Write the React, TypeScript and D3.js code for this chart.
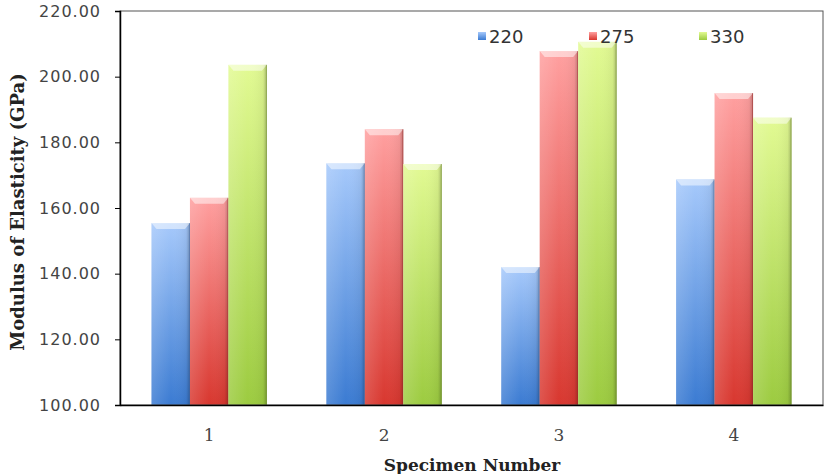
import React, { useEffect, useRef } from "react";
import * as d3 from "d3";

const categories = ["1", "2", "3", "4"];
const seriesNames = ["220", "275", "330"];
const values220 = [155.4, 173.6, 142.0, 168.7];
const values275 = [163.1, 184.0, 207.8, 195.0];
const values330 = [203.6, 173.4, 210.6, 187.5];
const yTicks = [100, 120, 140, 160, 180, 200, 220];

const colors = [
  { top: "#a6c9fb", bottom: "#3b7bd2", edge: "#2f5f9f" },
  { top: "#ffa0a0", bottom: "#d8372f", edge: "#9f2c29" },
  { top: "#e2fa93", bottom: "#9ccb40", edge: "#6f8f30" },
];

const App = () => {
  const svgRef = useRef<SVGSVGElement | null>(null);

  useEffect(() => {
    const width = 828;
    const height = 474;
    const margin = { top: 11, right: 5, bottom: 69, left: 120 };
    const innerW = width - margin.left - margin.right;
    const innerH = height - margin.top - margin.bottom;

    const svg = d3.select(svgRef.current).attr("width", width).attr("height", height);
    svg.selectAll("*").remove();

    const defs = svg.append("defs");
    colors.forEach((c, i) => {
      const g = defs
        .append("linearGradient")
        .attr("id", `grad${i}`)
        .attr("x1", 0)
        .attr("y1", 0)
        .attr("x2", 0)
        .attr("y2", 1);
      g.append("stop").attr("offset", "0%").attr("stop-color", c.top);
      g.append("stop").attr("offset", "100%").attr("stop-color", c.bottom);
      const h = defs
        .append("linearGradient")
        .attr("id", `side${i}`)
        .attr("x1", 0)
        .attr("y1", 0)
        .attr("x2", 1)
        .attr("y2", 0);
      h.append("stop").attr("offset", "0%").attr("stop-color", "#fff").attr("stop-opacity", 0.15);
      h.append("stop").attr("offset", "50%").attr("stop-color", "#fff").attr("stop-opacity", 0);
      h.append("stop").attr("offset", "90%").attr("stop-color", "#000").attr("stop-opacity", 0.05);
      h.append("stop").attr("offset", "100%").attr("stop-color", "#000").attr("stop-opacity", 0.25);
    });

    const root = svg.append("g").attr("transform", `translate(${margin.left},${margin.top})`);

    const x0 = d3.scaleBand().domain(categories).range([0, innerW]).paddingInner(0.34).paddingOuter(0.18);
    const x1 = d3.scaleBand().domain(seriesNames).range([0, x0.bandwidth()]);
    const y = d3.scaleLinear().domain([100, 220]).range([innerH, 0]);

    const series = [values220, values275, values330];

    // bars
    series.forEach((vals, si) => {
      const g = root.append("g");
      vals.forEach((v, ci) => {
        const bx = (x0(categories[ci]) as number) + (x1(seriesNames[si]) as number);
        const by = y(v);
        const bw = x1.bandwidth();
        const bh = innerH - by;
        g.append("rect")
          .attr("x", bx)
          .attr("y", by)
          .attr("width", bw)
          .attr("height", bh)
          .attr("fill", `url(#grad${si})`);
        g.append("rect")
          .attr("x", bx)
          .attr("y", by)
          .attr("width", bw)
          .attr("height", bh)
          .attr("fill", `url(#side${si})`);
        // top bevel
        g.append("path")
          .attr("d", `M${bx},${by} L${bx + bw},${by} L${bx + bw - 5},${by + 6} L${bx + 5},${by + 6} Z`)
          .attr("fill", "#fff")
          .attr("opacity", 0.5);
        g.append("line")
          .attr("x1", bx + bw - 0.5)
          .attr("x2", bx + bw - 0.5)
          .attr("y1", by)
          .attr("y2", innerH)
          .attr("stroke", colors[si].edge)
          .attr("stroke-opacity", 0.5);
      });
    });

    // frame
    root
      .append("rect")
      .attr("x", 0)
      .attr("y", 0)
      .attr("width", innerW)
      .attr("height", innerH)
      .attr("fill", "none")
      .attr("stroke", "#555")
      .attr("stroke-width", 1);

    // y axis
    const yAxis = root
      .append("g")
      .call(
        d3
          .axisLeft(y)
          .tickValues(yTicks)
          .tickSize(5)
          .tickPadding(14)
          .tickFormat((d) => d3.format(".2f")(d as number))
      );
    yAxis.select(".domain").attr("stroke", "#000").attr("stroke-width", 1.5);
    yAxis.selectAll(".tick line").attr("stroke", "#000");
    yAxis
      .selectAll("text")
      .attr("fill", "#444")
      .attr("font-family", "DejaVu Sans")
      .attr("font-size", 16)
      .attr("letter-spacing", 1);

    // x axis
    const xAxis = root
      .append("g")
      .attr("transform", `translate(0,${innerH})`)
      .call(d3.axisBottom(x0).tickSize(0).tickPadding(24));
    xAxis.select(".domain").attr("stroke", "#000").attr("stroke-width", 1.5);
    xAxis
      .selectAll("text")
      .attr("fill", "#444")
      .attr("font-family", "DejaVu Serif")
      .attr("font-size", 17);

    // axis titles
    svg
      .append("text")
      .attr("x", 472)
      .attr("y", 471)
      .attr("text-anchor", "middle")
      .attr("font-family", "DejaVu Serif")
      .attr("font-weight", "bold")
      .attr("font-size", 17)
      .attr("fill", "#222")
      .text("Specimen Number");

    svg
      .append("text")
      .attr("transform", `translate(24,212) rotate(-90)`)
      .attr("text-anchor", "middle")
      .attr("font-family", "DejaVu Serif")
      .attr("font-weight", "bold")
      .attr("font-size", 18)
      .attr("fill", "#222")
      .text("Modulus of Elasticity (GPa)");

    // legend
    const legendX = [478, 589, 699];
    const legend = svg.append("g");
    seriesNames.forEach((name, i) => {
      legend
        .append("rect")
        .attr("x", legendX[i])
        .attr("y", 32)
        .attr("width", 8)
        .attr("height", 8)
        .attr("fill", `url(#grad${i})`);
      legend
        .append("text")
        .attr("x", legendX[i] + 11)
        .attr("y", 43)
        .attr("font-family", "DejaVu Sans")
        .attr("font-size", 18)
        .attr("fill", "#333")
        .text(name);
    });
  }, []);

  return <svg ref={svgRef} style={{ position: "absolute", left: 0, top: 0 }}></svg>;
};

export default App;
